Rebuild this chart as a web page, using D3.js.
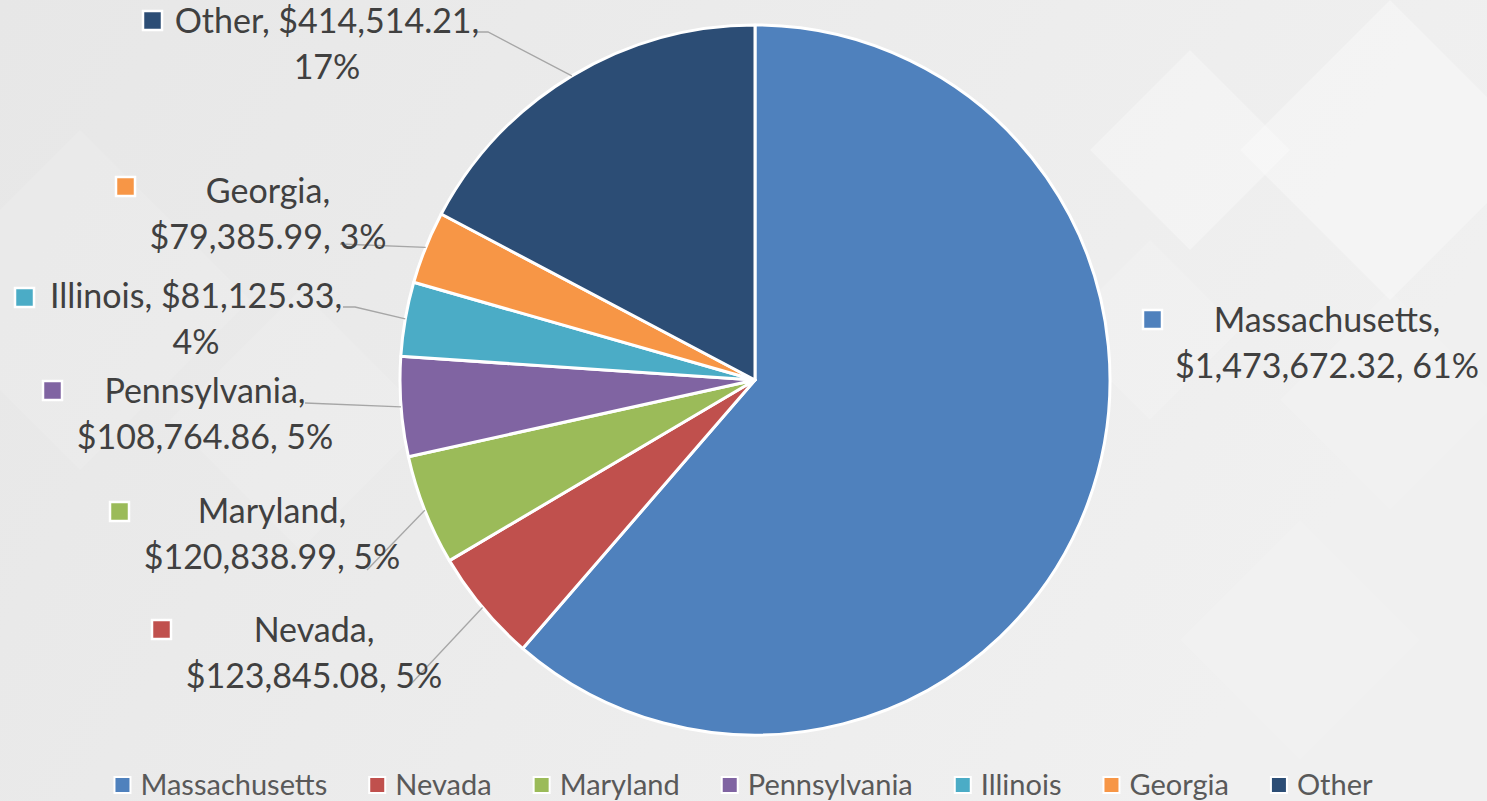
<!DOCTYPE html>
<html>
<head>
<meta charset="utf-8">
<script src="https://cdn.jsdelivr.net/npm/d3@7"></script>
<style>
  html, body { margin: 0; padding: 0; overflow: hidden; }
  svg { display: block; font-family: Lato, "Open Sans", sans-serif; }
</style>
</head>
<body>
<script>
'use strict';

// data
var states   = ["Massachusetts", "Nevada", "Maryland", "Pennsylvania", "Illinois", "Georgia", "Other"];
var sales    = [1473672.32, 123845.08, 120838.99, 108764.86, 81125.33, 79385.99, 414514.21];
var pctLabel = ["61%", "5%", "5%", "5%", "4%", "3%", "17%"];

var colors = ["#4F81BD", "#C0504D", "#9BBB59", "#8064A2", "#4BACC6", "#F79646", "#2C4D75"];

// label layout: centre x of text block, first baseline, marker x/y, leader anchor
var labelLayout = {
    "Massachusetts": { cx: 1327, y: 332, mx: 1143, my: 310, lead: null },
    "Nevada":        { cx: 314,  y: 642, mx: 152,  my: 620, lead: [410, 685] },
    "Maryland":      { cx: 272,  y: 523, mx: 110,  my: 502, lead: [367, 570] },
    "Pennsylvania":  { cx: 205,  y: 403, mx: 43,   my: 381, lead: [305, 403] },
    "Illinois":      { cx: 196,  y: 308, mx: 15,   my: 288, lead: [343, 307, 355] },
    "Georgia":       { cx: 268,  y: 203, mx: 116,  my: 177, lead: [340, 244] },
    "Other":         { cx: 327,  y: 33,  mx: 143,  my: 11,  lead: [477, 32, 488] }
};

var W = 1487, H = 801,
    cx = 755, cy = 380, R = 355;

var fmt = d3.format("$,.2f");

var svg = d3.select("body").append("svg")
    .attr("width", W).attr("height", H);

// background: light grey with faint diamonds
var defs = svg.append("defs");
var bg = defs.append("linearGradient").attr("id", "bg")
    .attr("x1", 0).attr("y1", 0).attr("x2", 1).attr("y2", 0.3);
bg.append("stop").attr("offset", "0%").attr("stop-color", "#e7e7e7");
bg.append("stop").attr("offset", "55%").attr("stop-color", "#ececec");
bg.append("stop").attr("offset", "100%").attr("stop-color", "#f0f0f0");
svg.append("rect").attr("width", W).attr("height", H).attr("fill", "url(#bg)");

var diamonds = [[1390, 150, 150], [1190, 150, 100], [1390, 400, 110], [1150, 330, 90], [80, 300, 170], [300, 420, 130], [1300, 640, 120]];
svg.append("g").selectAll("path").data(diamonds).join("path")
    .attr("d", function(d){
        return "M" + d[0] + "," + (d[1]-d[2]) + "L" + (d[0]+d[2]) + "," + d[1] +
               "L" + d[0] + "," + (d[1]+d[2]) + "L" + (d[0]-d[2]) + "," + d[1] + "Z";
    })
    .attr("fill", "#ffffff")
    .attr("opacity", function(d, i){ return i < 2 ? 0.3 : 0.12; });

// pie
var pie = d3.pie().sort(null).value(function(d){ return d; });
var arcs = pie(sales);
var arc = d3.arc().innerRadius(0).outerRadius(R);

var chart = svg.append("g").attr("transform", "translate(" + cx + "," + cy + ")");
chart.selectAll("path").data(arcs).join("path")
    .attr("d", arc)
    .attr("fill", function(d, i){ return colors[i]; })
    .attr("stroke", "#ffffff")
    .attr("stroke-width", 3)
    .attr("stroke-linejoin", "round");

// leader lines
var edge = d3.arc().innerRadius(R).outerRadius(R);
var leaders = svg.append("g")
    .attr("fill", "none").attr("stroke", "#a6a6a6").attr("stroke-width", 1.3);
arcs.forEach(function(a, i){
    var L = labelLayout[states[i]];
    if (!L.lead) return;
    var p = edge.centroid(a);
    var pts = [[L.lead[0], L.lead[1]]];
    if (L.lead.length > 2) pts.push([L.lead[2], L.lead[1]]);
    pts.push([cx + p[0], cy + p[1]]);
    leaders.append("path").attr("d", d3.line()(pts));
});

// data labels
var labels = svg.append("g").attr("fill", "#404040").style("font-size", "34px");
states.forEach(function(s, i){
    var L = labelLayout[s];
    var first, second;
    if (s === "Other" || s === "Illinois") { first = s + ", " + fmt(sales[i]) + ","; second = pctLabel[i]; }
    else { first = s + ","; second = fmt(sales[i]) + ", " + pctLabel[i]; }
    var t = labels.append("text").attr("text-anchor", "middle");
    t.append("tspan").attr("x", L.cx).attr("y", L.y).text(first);
    t.append("tspan").attr("x", L.cx).attr("y", L.y + 46).text(second);
    labels.append("rect")
        .attr("x", L.mx).attr("y", L.my).attr("width", 19).attr("height", 19)
        .attr("fill", colors[i]).attr("stroke", "#ffffff").attr("stroke-width", 2.5);
});

// legend
var legend = svg.append("g").style("font-size", "29px").attr("fill", "#595959");
var items = legend.selectAll("g").data(states).join("g");
items.append("rect")
    .attr("y", -8).attr("width", 16).attr("height", 16)
    .attr("fill", function(d, i){ return colors[i]; })
    .attr("stroke", "#ffffff").attr("stroke-width", 2);
items.append("text")
    .attr("x", 26).attr("y", 10)
    .text(function(d){ return d; });
var widths = [];
items.each(function(){
    widths.push(26 + d3.select(this).select("text").node().getComputedTextLength());
});
var gap = 42;
var x = (W - d3.sum(widths) - gap * (widths.length - 1)) / 2;
items.attr("transform", function(d, i){
    var tx = x; x += widths[i] + gap;
    return "translate(" + tx + ",785)";
});
</script>
</body>
</html>
